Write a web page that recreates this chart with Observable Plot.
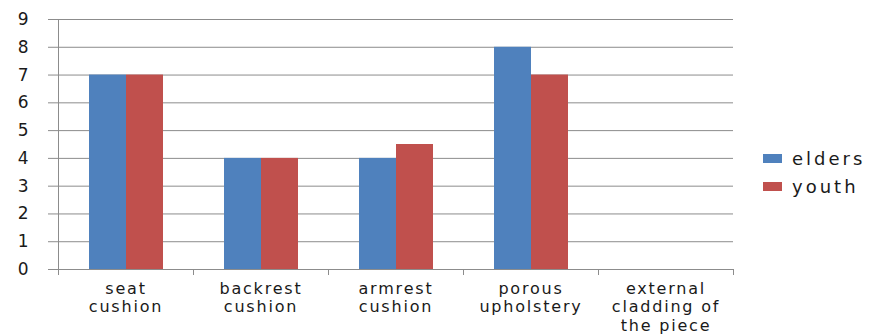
<!DOCTYPE html>
<html>
<head>
<meta charset="utf-8">
<script src="https://cdn.jsdelivr.net/npm/d3@7"></script>
<script src="https://cdn.jsdelivr.net/npm/@observablehq/plot@0.6"></script>
<style>
  body { margin: 0; background: #fff; }
  #chart { position: relative; width: 873px; height: 335px; font-family: "DejaVu Sans", sans-serif; }
  #chart svg g[aria-label="fx-axis tick label"] text { letter-spacing: 1.8px; }
  .legend { position: absolute; left: 763px; top: 144px; color: #1a1a1a; font-size: 18px; letter-spacing: 3px; }
  .legend-item { display: flex; align-items: center; height: 28px; }
  .legend-swatch { width: 19px; height: 9px; margin-right: 10px; flex-shrink: 0; }
</style>
</head>
<body>
<div id="chart"></div>
<script>
// Categories, with the line-broken labels shown under each group
const categories = ["seat cushion", "backrest cushion", "armrest cushion", "porous upholstery", "external cladding of the piece"];
const categoryLabels = ["seat\ncushion", "backrest\ncushion", "armrest\ncushion", "porous\nupholstery", "external\ncladding of\nthe piece"];

// Series
const seriesNames = ["elders", "youth"];
const seriesColors = ["#4F81BD", "#C0504D"];
const elders = [7, 4, 4, 8, 0];
const youth = [7, 4, 4.5, 7, 0];

// Value axis ticks
const yTicks = [0, 1, 2, 3, 4, 5, 6, 7, 8, 9];

const seriesValues = {elders, youth};
const rows = categories.flatMap((category, i) =>
  seriesNames.map((series) => ({category, series, value: seriesValues[series][i]}))
);

const gridColor = "#8c8c8c";

const plot = Plot.plot({
  width: 873,
  height: 335,
  marginTop: 19,
  marginBottom: 66,
  marginLeft: 58,
  marginRight: 140,
  style: {fontFamily: "'DejaVu Sans', sans-serif", color: "#1a1a1a", background: "#fff"},
  fx: {domain: categories, padding: 0, label: null},
  x: {domain: seriesNames, paddingInner: 0, paddingOuter: 0.78, axis: null},
  y: {domain: [0, 9], label: null},
  color: {domain: seriesNames, range: seriesColors},
  marks: [
    Plot.gridY(yTicks, {stroke: gridColor, strokeOpacity: 1}),
    Plot.axisY(yTicks, {
      tickSize: 10, tickPadding: 20, fontSize: 17,
      stroke: gridColor, strokeOpacity: 1, fill: "#1a1a1a", label: null
    }),
    Plot.barY(rows, {fx: "category", x: "series", y: "value", fill: "series"}),
    Plot.ruleY([0], {stroke: gridColor}),
    Plot.axisFx({
      anchor: "bottom", tickSize: 0, tickPadding: 11, fontSize: 16, lineHeight: 1.16,
      fill: "#1a1a1a", label: null,
      tickFormat: (c) => categoryLabels[categories.indexOf(c)]
    })
  ]
});

const chart = document.getElementById("chart");
chart.append(plot);

// Value axis line and group-boundary ticks on the category axis, placed with the plot's scales
const fx = plot.scale("fx");
const y = plot.scale("y");
const svg = d3.select(plot);
const y0 = y.apply(0);
const edges = categories.map((c) => fx.apply(c)).concat(fx.apply(categories[categories.length - 1]) + fx.bandwidth);
const g = svg.append("g").attr("stroke", gridColor).attr("fill", "none");
g.selectAll("line.edge")
  .data(edges)
  .join("line")
  .attr("class", "edge")
  .attr("x1", (d) => Math.round(d) + 0.5)
  .attr("x2", (d) => Math.round(d) + 0.5)
  .attr("y1", y0)
  .attr("y2", y0 + 6);
g.append("line")
  .attr("x1", Math.round(edges[0]) + 0.5)
  .attr("x2", Math.round(edges[0]) + 0.5)
  .attr("y1", y.apply(yTicks[yTicks.length - 1]))
  .attr("y2", y0);

// Legend
const color = plot.scale("color");
const legend = d3.select(chart).append("div").attr("class", "legend");
const items = legend.selectAll("div")
  .data(color.domain)
  .join("div")
  .attr("class", "legend-item");
items.append("span").attr("class", "legend-swatch").style("background", (d) => color.apply(d));
items.append("span").text((d) => d);
</script>
</body>
</html>
